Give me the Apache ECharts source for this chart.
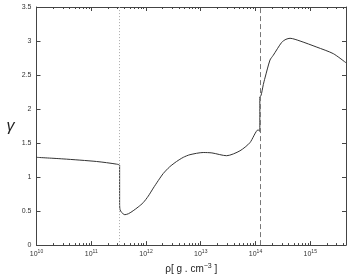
<!DOCTYPE html>
<html>
<head>
<meta charset="utf-8">
<script src="https://cdn.jsdelivr.net/npm/echarts@6/dist/echarts.min.js"></script>
<style>html,body{margin:0;padding:0;background:#fff;}#c{width:350px;height:279px;}</style>
</head>
<body>
<div id="c"></div>
<script>
// density rho [g/cm^3]
const rho = [1e10, 3.06e10, 1.25e11, 2.9e11, 3.3e11, 3.3e11, 3.36e11, 3.58e11, 4.11e11, 4.8e11, 5.83e11, 7.2e11, 8.9e11, 1.1e12, 1.36e12, 1.68e12, 2.07e12, 2.7e12, 3.62e12, 4.8e12, 6.35e12, 1.11e13, 1.6e13, 2.97e13, 5.2e13, 7.9e13, 1.12e14, 1.2e14, 1.2e14, 1.26e14, 1.39e14, 1.49e14, 1.84e14, 2.11e14, 3.01e14, 3.6e14, 4.28e14, 6.52e14, 1.32e15, 2.64e15, 4.5e15];
// adiabatic index gamma
const gamma = [1.29, 1.267, 1.229, 1.19, 1.171, 0.60, 0.52, 0.481, 0.447, 0.462, 0.505, 0.56, 0.624, 0.72, 0.838, 0.95, 1.053, 1.15, 1.229, 1.29, 1.329, 1.361, 1.355, 1.314, 1.386, 1.505, 1.695, 1.67, 2.18, 2.195, 2.36, 2.457, 2.72, 2.79, 2.98, 3.025, 3.04, 3.0, 2.91, 2.814, 2.68];
const xMin = 1e10, xMax = 4.5e15;
const yMin = 0, yMax = 3.5, yStep = 0.5;
const dottedAt = 3.24e11;
const dashedAt = 1.21e14;
const minorTicks = [];
for (let d = 10; d <= 15; d++) for (let k = 2; k <= 9; k++) { const v = k * Math.pow(10, d); if (v < xMax) minorTicks.push(v); }

const chart = echarts.init(document.getElementById('c'), null, {renderer: 'canvas'});
const FONT = 'Liberation Sans, Arial, sans-serif';
const axisCol = '#444';
function expLabel(v) {
  const e = Math.round(Math.log10(v));
  if (Math.abs(Math.log10(v) - e) > 1e-6) return '';
  return '10{sup|' + e + '}';
}
const xBase = {
  type: 'log', logBase: 10, min: xMin, max: xMax,
  axisLine: {show: true, onZero: false, lineStyle: {color: axisCol, width: 1}},
  axisTick: {show: true, inside: true, length: 4, lineStyle: {color: axisCol}},
  splitLine: {show: false}, minorTick: {show: false}
};
const yBase = {
  type: 'value', min: yMin, max: yMax, interval: yStep,
  axisLine: {show: true, onZero: false, lineStyle: {color: axisCol, width: 1}},
  axisTick: {show: true, inside: true, length: 4, lineStyle: {color: axisCol}},
  splitLine: {show: false}
};
chart.setOption({
  animation: false,
  backgroundColor: '#fff',
  grid: {left: 36.5, right: 4, top: 7, bottom: 27},
  xAxis: [
    Object.assign({}, xBase, {
      position: 'bottom',
      name: 'ρ{n|[} {n|g . cm}{sup|−3}{n| ]}',
      nameLocation: 'middle', nameGap: 17,
      nameTextStyle: {fontFamily: FONT, fontSize: 10, color: '#222',
        rich: {n: {fontFamily: FONT, fontSize: 10, color: '#222'},
               sup: {fontFamily: FONT, fontSize: 7, color: '#222', padding: [0, 0, 6, 0]}}},
      axisLabel: {show: true, margin: 4, showMaxLabel: false, formatter: expLabel,
        fontFamily: FONT, fontSize: 7, color: '#333',
        rich: {sup: {fontFamily: FONT, fontSize: 5, color: '#333', padding: [0, 0, 5, 0]}}}
    }),
    Object.assign({}, xBase, {position: 'top', axisLabel: {show: false}})
  ],
  yAxis: [
    Object.assign({}, yBase, {
      position: 'left',
      name: 'γ', nameLocation: 'middle', nameGap: 22, nameRotate: 0,
      nameTextStyle: {fontFamily: FONT, fontSize: 16, color: '#222', fontStyle: 'italic'},
      axisLabel: {show: true, margin: 5, fontFamily: FONT, fontSize: 7, color: '#333'}
    }),
    Object.assign({}, yBase, {position: 'right', axisLabel: {show: false}})
  ],
  series: [
    {
      type: 'line', xAxisIndex: 0, yAxisIndex: 0,
      data: rho.map((r, i) => [r, gamma[i]]),
      showSymbol: false, symbol: 'none', smooth: 0.25,
      lineStyle: {color: '#333', width: 1},
      markLine: {
        silent: true, symbol: ['none', 'none'], label: {show: false},
        data: [
          {xAxis: dottedAt, lineStyle: {type: [1, 2], color: '#aaa', width: 1}},
          {xAxis: dashedAt, lineStyle: {type: [5, 3], color: '#777', width: 1}}
        ]
      }
    },
    {
      type: 'custom', xAxisIndex: 0, yAxisIndex: 0, silent: true, clip: false,
      data: minorTicks.map(v => [v, yMin]),
      encode: {x: 0, y: 1},
      renderItem: function (params, api) {
        const v = api.value(0);
        const b = api.coord([v, yMin]);
        const t = api.coord([v, yMax]);
        const x = Math.round(b[0]) + 0.5;
        return {type: 'group', children: [
          {type: 'line', shape: {x1: x, y1: b[1], x2: x, y2: b[1] - 2}, style: {stroke: axisCol, lineWidth: 1}},
          {type: 'line', shape: {x1: x, y1: t[1], x2: x, y2: t[1] + 2}, style: {stroke: axisCol, lineWidth: 1}}
        ]};
      }
    }
  ]
});
</script>
</body>
</html>
